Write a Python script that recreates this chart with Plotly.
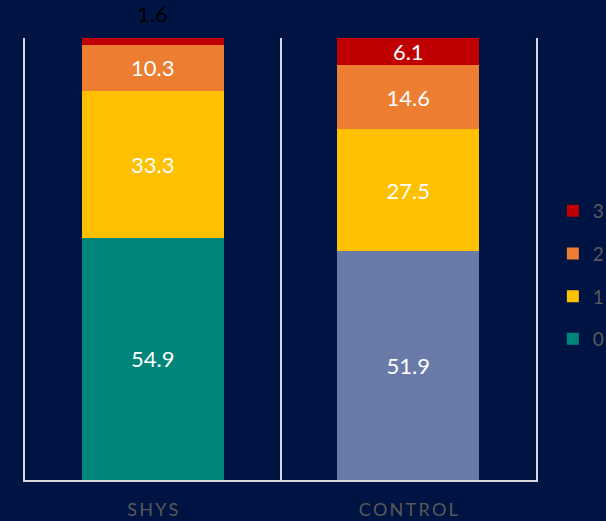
import plotly.graph_objects as go

categories = ["SHYS", "CONTROL"]
tick_labels = ["S\u2009H\u2009Y\u2009S", "C\u2009O\u2009N\u2009T\u2009R\u2009O\u2009L"]
series_names = ["0", "1", "2", "3"]
values_0 = [54.9, 51.9]
values_1 = [33.3, 27.5]
values_2 = [10.3, 14.6]
values_3 = [1.6, 6.1]

colors = {
    "0": ["#00857A", "#6A7AA8"],
    "1": ["#FFC000", "#FFC000"],
    "2": ["#ED7D31", "#ED7D31"],
    "3": ["#C00000", "#C00000"],
}

FONT = "Lato, 'Open Sans', sans-serif"
BG = "#001443"

fig = go.Figure()
all_vals = [values_0, values_1, values_2, values_3]
n = len(series_names)
for i, (name, vals) in enumerate(zip(series_names, all_vals)):
    if name == "3":
        text = ["", f"{vals[1]}"]
    else:
        text = [f"{v}" for v in vals]
    fig.add_trace(go.Bar(
        x=categories, y=vals, name=name,
        marker=dict(color=colors[name], line=dict(width=0)),
        text=text, textposition="inside", insidetextanchor="middle",
        textfont=dict(family=FONT, size=22, color="white"),
        constraintext="none", cliponaxis=False,
        legendgroup=name, legendrank=1000 + (n - i) * 10, hoverinfo="skip",
    ))

totals = [sum(v[i] for v in all_vals) for i in range(len(categories))]
fig.add_annotation(
    x=categories[0], y=totals[0], xref="x", yref="y",
    text=f"{values_3[0]}", showarrow=False, yanchor="bottom", yshift=9,
    font=dict(family=FONT, size=22, color="black"),
)

fig.update_layout(
    barmode="stack", bargap=0.444,
    width=606, height=521,
    paper_bgcolor=BG, plot_bgcolor=BG,
    margin=dict(l=25, r=70, t=38, b=41, autoexpand=False),
    showlegend=True,
    legend=dict(
        x=1.033, y=0.464, xanchor="left", yanchor="middle",
        traceorder="grouped", tracegroupgap=15,
        font=dict(family=FONT, size=19, color="#595959"),
        bgcolor="rgba(0,0,0,0)",
    ),
    xaxis=dict(
        tickmode="array", tickvals=categories, ticktext=tick_labels,
        tickson="boundaries", ticks="", showgrid=True, gridcolor="#D9D9D9", gridwidth=1.5,
        showline=True, linecolor="#D9D9D9", linewidth=2,
        tickfont=dict(family=FONT, size=18, color="#595959"),
        ticklabelstandoff=12,
        range=[-0.5, 1.5],
    ),
    yaxis=dict(
        range=[0, 100.1], showgrid=False, zeroline=False,
        showticklabels=False, ticks="",
        showline=True, mirror=True, linecolor="#D9D9D9", linewidth=1.5,
    ),
)

fig.write_html(
    "out.html",
    config={"displayModeBar": False},
    post_script="document.body.style.margin='0';document.body.style.overflow='hidden';",
)
